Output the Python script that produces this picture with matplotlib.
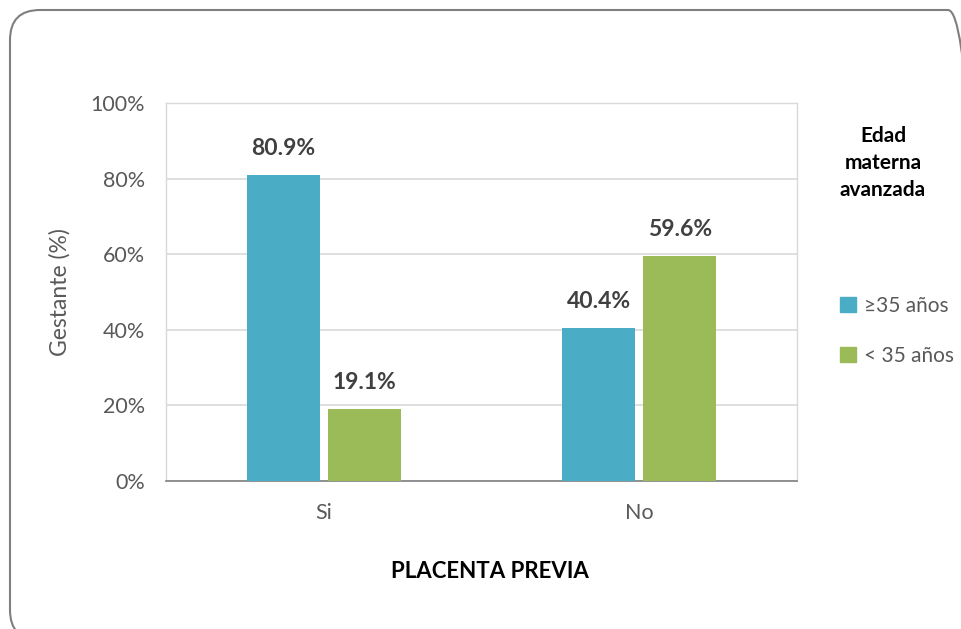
import matplotlib
matplotlib.use("Agg")
import matplotlib.pyplot as plt
from matplotlib.patches import FancyBboxPatch, Patch
from matplotlib.transforms import IdentityTransform
import numpy as np

categories = ["Si", "No"]
series_names = ["≥35 años", "< 35 años"]
mayor35 = [80.9, 40.4]
menor35 = [19.1, 59.6]
colors = ["#4BACC6", "#9BBB59"]
yticks = [0, 20, 40, 60, 80, 100]
ytick_labels = ["0%", "20%", "40%", "60%", "80%", "100%"]

plt.rcParams['font.family'] = ['Lato', 'DejaVu Sans']

W, H = 961, 629
fig = plt.figure(figsize=(W/100, H/100), dpi=100)

# outer rounded frame (pixel coordinates, origin bottom-left)
frame = FancyBboxPatch((10, -11), 968, 630,
                       boxstyle="round,pad=0,rounding_size=30",
                       transform=IdentityTransform(), fill=False,
                       edgecolor="#7F7F7F", linewidth=1.5)
fig.patches.append(frame)

ax = fig.add_axes([166/W, 1-481/H, (797-166)/W, (481-103)/H])
x = np.arange(len(categories))
w = 0.231
gap = 0.0125
b1 = ax.bar(x - w/2 - gap, mayor35, w, color=colors[0], label=series_names[0], zorder=3)
b2 = ax.bar(x + w/2 + gap, menor35, w, color=colors[1], label=series_names[1], zorder=3)

for bars, vals in ((b1, mayor35), (b2, menor35)):
    for b, v in zip(bars, vals):
        ax.text(b.get_x() + b.get_width()/2, v + 7.0, f"{v:.1f}%",
                ha="center", va="center", fontsize=16.5, fontweight="bold",
                color="#404040")

ax.set_xlim(-0.5, 1.5)
ax.set_ylim(0, 100)
ax.set_yticks(yticks)
ax.set_yticklabels(ytick_labels)
ax.set_xticks(x)
ax.set_xticklabels(categories)
ax.yaxis.grid(True, color="#D9D9D9", linewidth=1.2, zorder=0)
ax.set_axisbelow(True)
ax.tick_params(axis="both", length=0, labelsize=15.5, colors="#595959")
ax.tick_params(axis="y", pad=15)
ax.tick_params(axis="x", pad=16)
for s in ["left", "top", "right"]:
    ax.spines[s].set_color("#D9D9D9")
    ax.spines[s].set_linewidth(1.0)
ax.spines["bottom"].set_color("#7F7F7F")
ax.spines["bottom"].set_linewidth(1.2)

ax.set_ylabel("Gestante (%)", fontsize=16.5, color="#595959")
ax.yaxis.set_label_coords(-0.152, 0.5)

fig.text(490/W, 1-571/H, "PLACENTA PREVIA", ha="center", va="center",
         fontsize=16, fontweight="bold", color="black")

fig.text(883/W, 1-163/H, "Edad\nmaterna\navanzada", ha="center", va="center",
         fontsize=15, fontweight="bold", color="black", linespacing=1.45)

handles = [Patch(color=colors[0]), Patch(color=colors[1])]
leg = fig.legend(handles, series_names, loc="center left",
                 bbox_to_anchor=(840/W, 1-331/H), frameon=False,
                 fontsize=15, labelcolor="#595959", handlelength=0.75,
                 handleheight=0.75, handletextpad=0.4, labelspacing=1.45,
                 borderaxespad=0, borderpad=0)

fig.savefig("out.png", dpi=100)
